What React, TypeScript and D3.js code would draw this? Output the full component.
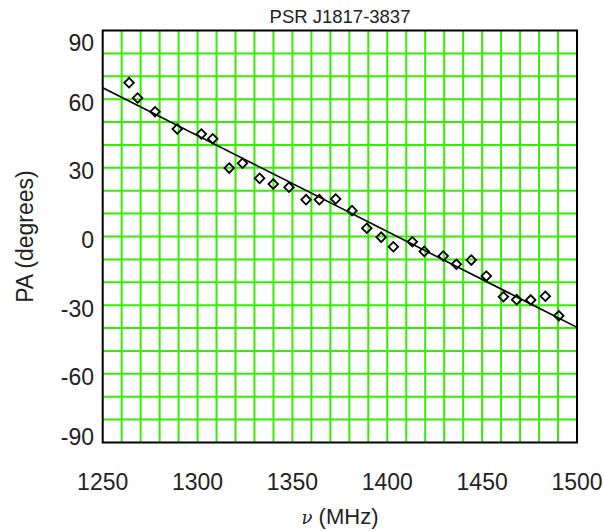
import React, { useRef, useEffect } from "react";
import * as d3 from "d3";

// measured position angles (frequency in MHz, PA in degrees)
const freq = [
  1263.9, 1268.4, 1277.6, 1289.3, 1302.0, 1308.0, 1316.7, 1323.7, 1332.7, 1339.9,
  1348.2, 1357.2, 1364.2, 1372.8, 1381.4, 1389.2, 1396.8, 1403.2, 1413.2, 1419.5,
  1429.5, 1436.4, 1444.3, 1452.2, 1461.2, 1468.2, 1475.6, 1483.3, 1490.4,
];
const pa = [
  67.2, 60.5, 54.5, 47.0, 44.8, 42.7, 29.9, 32.0, 25.4, 22.9,
  21.5, 16.1, 16.1, 16.4, 11.3, 3.6, -0.3, -4.5, -2.3, -6.5,
  -8.5, -12.1, -10.3, -17.3, -26.3, -27.6, -27.7, -26.1, -34.6,
];

// linear fit, evaluated at the ends of the band
const fitFreq = [1250, 1500];
const fitPA = [65.0, -39.7];

const xTicks = [1250, 1300, 1350, 1400, 1450, 1500];
const yTicks = [90, 60, 30, 0, -30, -60, -90];

const App = () => {
  const ref = useRef<SVGSVGElement>(null);

  useEffect(() => {
    const width = 604;
    const height = 531;
    const marginTop = 30.5;
    const marginRight = 27;
    const marginBottom = 88.5;
    const marginLeft = 102.7;
    const font = "'Liberation Sans', Arial, Helvetica, sans-serif";
    const green = "#33ee00";

    const x = d3.scaleLinear()
      .domain([1250, 1500])
      .range([marginLeft, width - marginRight]);

    const y = d3.scaleLinear()
      .domain([-90, 90])
      .range([height - marginBottom, marginTop]);

    const svg = d3.select(ref.current);
    svg.selectAll("*").remove();

    svg.append("rect")
      .attr("width", width)
      .attr("height", height)
      .attr("fill", "white");

    // green grid, every 10 MHz and every 10 degrees
    const g = svg.append("g")
      .attr("stroke", green)
      .attr("stroke-width", 2);

    g.selectAll()
      .data(d3.range(1260, 1500, 10))
      .enter()
      .append("line")
        .attr("x1", d => x(d))
        .attr("x2", d => x(d))
        .attr("y1", y(-90))
        .attr("y2", y(90));

    g.selectAll()
      .data(d3.range(-80, 90, 10))
      .enter()
      .append("line")
        .attr("x1", x(1250))
        .attr("x2", x(1500))
        .attr("y1", d => y(d))
        .attr("y2", d => y(d));

    // frame
    svg.append("rect")
      .attr("x", x(1250))
      .attr("y", y(90))
      .attr("width", x(1500) - x(1250))
      .attr("height", y(-90) - y(90))
      .attr("fill", "none")
      .attr("stroke", "black")
      .attr("stroke-width", 2);

    // clip for the fit line
    svg.append("clipPath")
      .attr("id", "plot-clip")
      .append("rect")
        .attr("x", x(1250))
        .attr("y", y(90))
        .attr("width", x(1500) - x(1250))
        .attr("height", y(-90) - y(90));

    const line = d3.line<number>()
      .x((d, i) => x(fitFreq[i]))
      .y(d => y(d));

    svg.append("path")
      .attr("clip-path", "url(#plot-clip)")
      .attr("fill", "none")
      .attr("stroke", "black")
      .attr("stroke-width", 1.6)
      .attr("d", line(fitPA));

    // open diamonds
    svg.selectAll()
      .data(freq)
      .enter()
      .append("path")
        .attr("d", d3.symbol(d3.symbolSquare, 46))
        .attr("transform", (d, i) => `translate(${x(d)},${y(pa[i])}) rotate(45)`)
        .attr("fill", "none")
        .attr("stroke", "black")
        .attr("stroke-width", 1.8);

    // x tick labels
    svg.selectAll()
      .data(xTicks)
      .enter()
      .append("text")
        .attr("x", d => x(d))
        .attr("y", 490)
        .attr("text-anchor", "middle")
        .attr("font-family", font)
        .attr("font-size", 23)
        .attr("fill", "#222")
        .text(d => d);

    // y tick labels, ends nudged inside the frame
    svg.selectAll()
      .data(yTicks)
      .enter()
      .append("text")
        .attr("x", 94)
        .attr("y", d => {
          if (d === 90) return y(d) + 12.5;
          if (d === -90) return y(d) - 5.5;
          return y(d) + 3.5;
        })
        .attr("dy", "0.35em")
        .attr("text-anchor", "end")
        .attr("font-family", font)
        .attr("font-size", 23)
        .attr("fill", "#222")
        .text(d => d);

    // title
    svg.append("text")
      .attr("x", 340)
      .attr("y", 22.5)
      .attr("text-anchor", "middle")
      .attr("font-family", font)
      .attr("font-size", 18.5)
      .attr("fill", "#222")
      .text("PSR J1817-3837");

    // x label
    const xl = svg.append("text")
      .attr("x", 340)
      .attr("y", 524)
      .attr("text-anchor", "middle")
      .attr("font-family", font)
      .attr("font-size", 22)
      .attr("fill", "#222");
    xl.append("tspan")
      .attr("font-family", "'DejaVu Serif', 'Liberation Serif', serif")
      .attr("font-style", "italic")
      .attr("font-size", 18)
      .text("ν");
    xl.append("tspan").text(" (MHz)");

    // y label
    svg.append("text")
      .attr("transform", `translate(33,${y(0)}) rotate(-90)`)
      .attr("text-anchor", "middle")
      .attr("font-family", font)
      .attr("font-size", 23)
      .attr("fill", "#222")
      .text("PA (degrees)");
  }, []);

  return (
    <svg
      width={604}
      height={531}
      ref={ref}
      style={{ position: "absolute", left: 0, top: 0, display: "block" }}
    />
  );
};

export default App;
